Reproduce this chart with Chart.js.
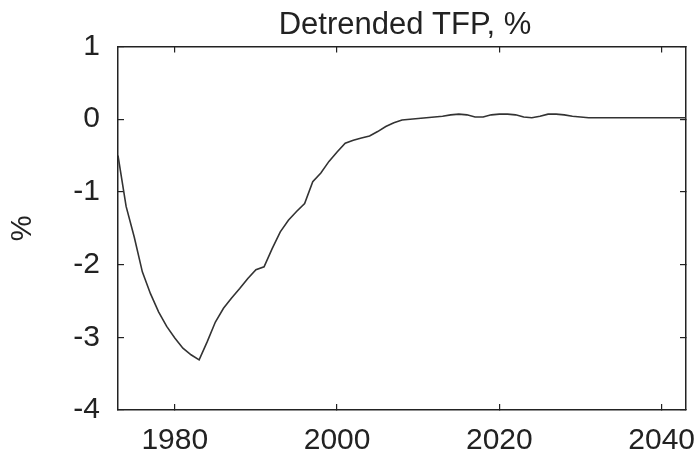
<!DOCTYPE html>
<html><head><meta charset="utf-8">
<script src="https://cdn.jsdelivr.net/npm/chart.js@4"></script>
<style>html,body{margin:0;padding:0;background:#fff;}canvas{display:block;}</style>
</head><body>
<canvas id="c" width="698" height="452"></canvas>
<script>
const years = [1973,1974,1975,1976,1977,1978,1979,1980,1981,1982,1983,1984,1985,1986,1987,1988,1989,1990,1991,1992,1993,1994,1995,1996,1997,1998,1999,2000,2001,2002,2003,2004,2005,2006,2007,2008,2009,2010,2011,2012,2013,2014,2015,2016,2017,2018,2019,2020,2021,2022,2023,2024,2025,2026,2027,2028,2029,2030,2031,2032,2033,2034,2035,2036,2037,2038,2039,2040,2041,2042,2043];
const tfp = [-0.50,-1.20,-1.62,-2.10,-2.40,-2.65,-2.85,-3.01,-3.15,-3.24,-3.31,-3.06,-2.79,-2.60,-2.46,-2.33,-2.19,-2.07,-2.03,-1.78,-1.55,-1.39,-1.27,-1.16,-0.86,-0.74,-0.58,-0.45,-0.33,-0.29,-0.26,-0.23,-0.17,-0.10,-0.05,-0.01,0.00,0.01,0.02,0.03,0.04,0.06,0.07,0.06,0.03,0.03,0.06,0.07,0.07,0.06,0.03,0.02,0.04,0.07,0.07,0.06,0.04,0.03,0.02,0.02,0.02,0.02,0.02,0.02,0.02,0.02,0.02,0.02,0.02,0.02,0.02];
const xTicks = [1980, 2000, 2020, 2040];
const yTicks = [-4, -3, -2, -1, 0, 1];
const titleText = 'Detrended TFP, %';
const yLabel = '%';

const FONT = "'Liberation Sans', Arial, Helvetica, sans-serif";
const INK = '#222';

const titlePlugin = {
  id: 'topTitle',
  afterDraw(chart) {
    const {ctx, chartArea} = chart;
    ctx.save();
    ctx.font = '31px ' + FONT;
    ctx.fillStyle = INK;
    ctx.textAlign = 'center';
    ctx.textBaseline = 'alphabetic';
    ctx.fillText(titleText, (chartArea.left + chartArea.right) / 2 + 3, 34);
    ctx.restore();
  }
};

const gridOpts = {drawOnChartArea: false, drawTicks: true, tickLength: -6, color: INK, lineWidth: 1.2};
const borderOpts = {display: true, color: INK, width: 1.5};
const tickFont = {family: FONT, size: 30};
const noPad = s => { s.paddingLeft = 0; s.paddingRight = 0; s.paddingTop = 0; s.paddingBottom = 0; };

new Chart(document.getElementById('c'), {
  type: 'line',
  data: {
    datasets: [{
      data: years.map((y, i) => ({x: y, y: tfp[i]})),
      borderColor: '#333',
      borderWidth: 1.6,
      pointRadius: 0,
      tension: 0,
      fill: false
    }]
  },
  options: {
    responsive: false,
    animation: false,
    layout: {padding: {top: 46.5, right: 12, bottom: 0, left: 0}},
    plugins: {legend: {display: false}, tooltip: {enabled: false}, title: {display: false}},
    scales: {
      x: {
        type: 'linear', position: 'bottom', min: 1973, max: 2043,
        afterBuildTicks: s => { s.ticks = xTicks.map(v => ({value: v})); },
        afterFit: s => { s.height = 42; noPad(s); },
        grid: gridOpts, border: borderOpts,
        ticks: {font: tickFont, color: INK, padding: 19, maxRotation: 0, autoSkip: false, callback: v => String(v)}
      },
      x2: {
        type: 'linear', position: 'top', min: 1973, max: 2043,
        afterBuildTicks: s => { s.ticks = xTicks.map(v => ({value: v})); },
        afterFit: s => { s.height = 0; noPad(s); },
        grid: gridOpts, border: borderOpts,
        ticks: {display: false}
      },
      y: {
        type: 'linear', position: 'left', min: -4, max: 1,
        afterBuildTicks: s => { s.ticks = yTicks.map(v => ({value: v})); },
        afterFit: s => { s.width = 118; noPad(s); },
        grid: gridOpts, border: borderOpts,
        ticks: {font: tickFont, color: INK, padding: 24, callback: v => String(v)},
        title: {display: true, text: yLabel, font: {family: FONT, size: 29}, color: INK, padding: {top: 6, bottom: 0}}
      },
      y2: {
        type: 'linear', position: 'right', min: -4, max: 1,
        afterBuildTicks: s => { s.ticks = yTicks.map(v => ({value: v})); },
        afterFit: s => { s.width = 0; noPad(s); },
        grid: gridOpts, border: borderOpts,
        ticks: {display: false}
      }
    }
  },
  plugins: [titlePlugin]
});
</script>
</body></html>
